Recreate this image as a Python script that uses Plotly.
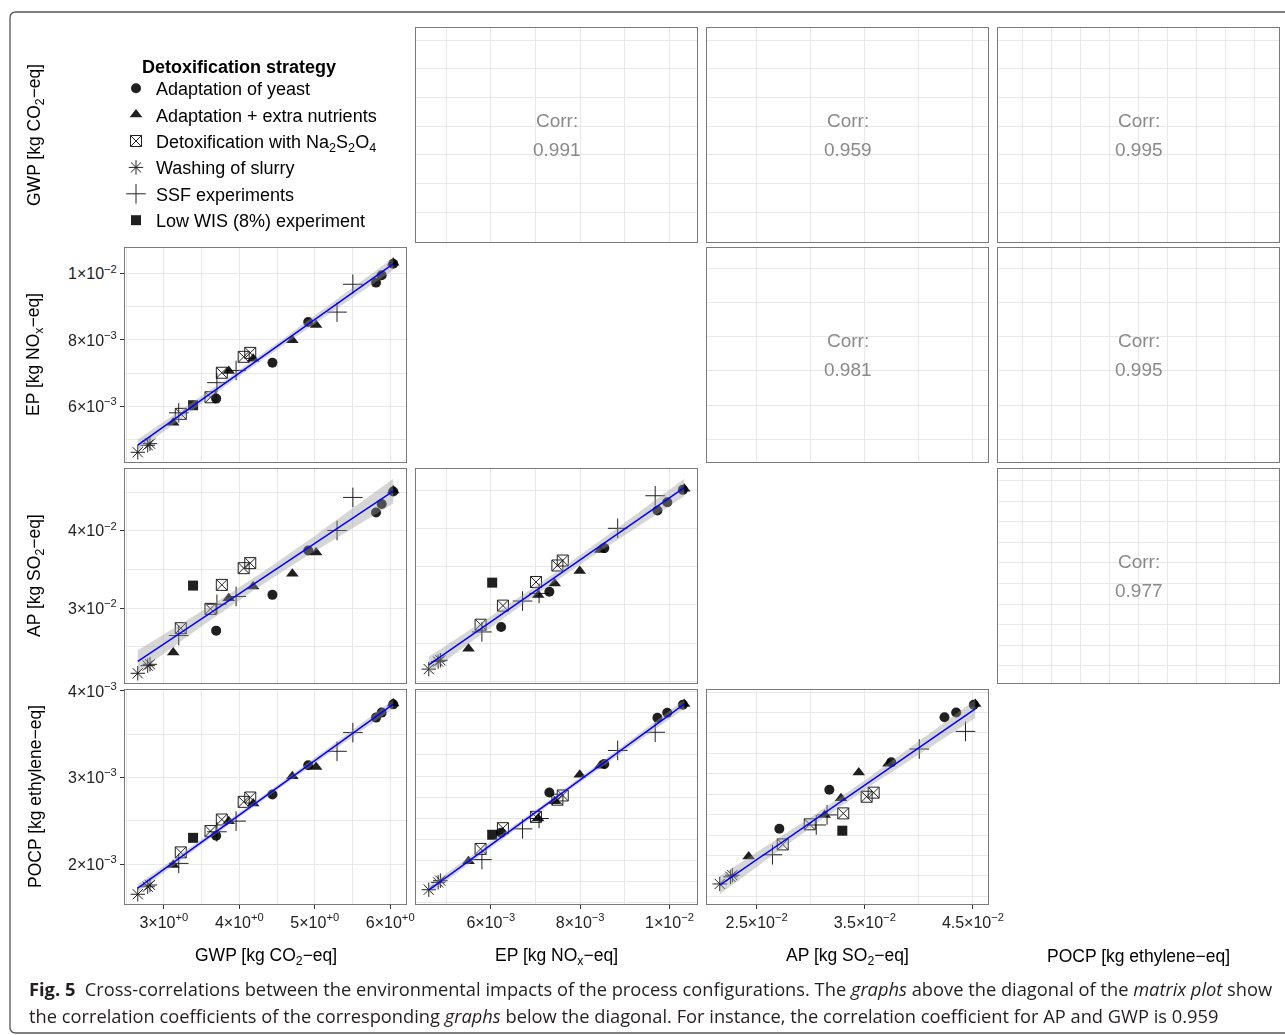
import numpy as np
import plotly.graph_objects as go

# ------------------------------------------------------------------ data
strategy = ["Washing of slurry", "Washing of slurry", "Washing of slurry",
            "Adaptation + extra nutrients", "Adaptation + extra nutrients", "Adaptation + extra nutrients",
            "Adaptation + extra nutrients", "Adaptation + extra nutrients", "Adaptation + extra nutrients",
            "Adaptation of yeast", "Adaptation of yeast", "Adaptation of yeast",
            "Adaptation of yeast", "Adaptation of yeast", "Adaptation of yeast",
            "Detoxification with Na2S2O4", "Detoxification with Na2S2O4", "Detoxification with Na2S2O4",
            "Detoxification with Na2S2O4", "Detoxification with Na2S2O4",
            "SSF experiments", "SSF experiments", "SSF experiments", "SSF experiments", "SSF experiments",
            "Low WIS (8%) experiment"]
gwp = [2.654, 2.786, 2.816, 3.124, 3.860, 4.184, 4.703, 5.018, 6.040, 3.693, 4.439, 4.913, 5.812,
       5.887, 6.040, 3.224, 3.618, 3.768, 4.058, 4.145, 3.197, 3.703, 3.957, 5.295, 5.505, 3.387]
ep = [0.00461, 0.00482, 0.00487, 0.00550, 0.00706, 0.00743, 0.00799, 0.00845, 0.01033, 0.00623,
      0.00731, 0.00854, 0.00973, 0.00995, 0.01030, 0.00577, 0.00627, 0.00701, 0.00749, 0.00761,
      0.00580, 0.00671, 0.00708, 0.00884, 0.00968, 0.00603]
ap = [0.02159, 0.02258, 0.02275, 0.02426, 0.03129, 0.03280, 0.03444, 0.03719, 0.04521, 0.02710,
      0.03172, 0.03745, 0.04237, 0.04345, 0.04508, 0.02741, 0.02991, 0.03301, 0.03517, 0.03582,
      0.02646, 0.03051, 0.03151, 0.04004, 0.04431, 0.03292]
pocp = [0.001651, 0.001738, 0.001758, 0.001988, 0.002496, 0.002700, 0.003015, 0.003122, 0.003854,
        0.002327, 0.002804, 0.003142, 0.003692, 0.003750, 0.003845, 0.002135, 0.002381, 0.002515,
        0.002719, 0.002769, 0.002008, 0.002373, 0.002496, 0.003303, 0.003519, 0.002303]

var_titles = ["GWP [kg CO<sub>2</sub>\u2212eq]", "EP [kg NO<sub>x</sub>\u2212eq]",
              "AP [kg SO<sub>2</sub>\u2212eq]", "POCP [kg ethylene\u2212eq]"]

groups = ["Adaptation of yeast", "Adaptation + extra nutrients", "Detoxification with Na2S2O4",
          "Washing of slurry", "SSF experiments", "Low WIS (8%) experiment"]
group_labels = ["Adaptation of yeast", "Adaptation + extra nutrients",
                "Detoxification with Na<sub>2</sub>S<sub>2</sub>O<sub>4</sub>",
                "Washing of slurry", "SSF experiments", "Low WIS (8%) experiment"]
legend_title = "Detoxification strategy"

corr_pairs = [(0, 1), (0, 2), (0, 3), (1, 2), (1, 3), (2, 3)]
corr_values = ["0.991", "0.959", "0.995", "0.981", "0.995", "0.977"]

# tick labels
x_tickvals = {0: [3, 4, 5, 6], 1: [0.006, 0.008, 0.010], 2: [0.025, 0.035, 0.045]}
x_ticktext = {0: ["3\u00d710<sup>+0</sup>", "4\u00d710<sup>+0</sup>", "5\u00d710<sup>+0</sup>", "6\u00d710<sup>+0</sup>"],
              1: ["6\u00d710<sup>\u22123</sup>", "8\u00d710<sup>\u22123</sup>", "1\u00d710<sup>\u22122</sup>"],
              2: ["2.5\u00d710<sup>\u22122</sup>", "3.5\u00d710<sup>\u22122</sup>", "4.5\u00d710<sup>\u22122</sup>"]}
y_tickvals = {1: [0.006, 0.008, 0.010], 2: [0.03, 0.04], 3: [0.002, 0.003, 0.004]}
y_ticktext = {1: ["6\u00d710<sup>\u22123</sup>", "8\u00d710<sup>\u22123</sup>", "1\u00d710<sup>\u22122</sup>"],
              2: ["3\u00d710<sup>\u22122</sup>", "4\u00d710<sup>\u22122</sup>"],
              3: ["2\u00d710<sup>\u22123</sup>", "3\u00d710<sup>\u22123</sup>", "4\u00d710<sup>\u22123</sup>"]}

# ------------------------------------------------------------------ styles / layout geometry
W, H = 1285, 1035
FONT = "Liberation Sans, Arial, sans-serif"
col_px = [(125, 406), (416, 697), (707, 988), (998, 1279)]
row_px = [(28, 242), (248, 462), (469, 683), (690, 904)]
grid_step = {(1, 0): (0.5, 0.001), (2, 0): (0.5, 0.005), (3, 0): (0.5, 0.0005),
             (2, 1): (0.001, 0.005), (3, 1): (0.001, 0.00025), (3, 2): (0.005, 0.00025),
             (0, 1): (0.001, 0.5), (0, 2): (0.005, 0.5), (0, 3): (0.00025, 0.5),
             (1, 2): (0.005, 0.001), (1, 3): (0.00025, 0.001), (2, 3): (0.00025, 0.0025)}
symbols = ["circle", "triangle-up", "square-x-open", "asterisk-open", "cross-thin-open", "square"]
sizes = [10, 11, 11, 12, 14, 10]
GRID = "#E8E8E8"
BORDER = "#7A7A7A"
T975 = 2.0639  # t quantile, df = n - 2 = 24


def px_x(x):
    return x / W


def px_y(y):
    return 1 - y / H


data = [np.array(gwp), np.array(ep), np.array(ap), np.array(pocp)]
strat = np.array(strategy)


def expand(lo, hi, f=0.05):
    d = hi - lo
    return [lo - f * d, hi + f * d]


def lm_band(x, y):
    n = len(x)
    b, a = np.polyfit(x, y, 1)
    xs = np.linspace(x.min(), x.max(), 80)
    fit = a + b * xs
    resid = y - (a + b * x)
    s = np.sqrt(np.sum(resid ** 2) / (n - 2))
    se = s * np.sqrt(1.0 / n + (xs - x.mean()) ** 2 / np.sum((x - x.mean()) ** 2))
    return xs, fit, fit - T975 * se, fit + T975 * se


fig = go.Figure()
layout = {}
annotations = []
k = 0
for r in range(4):
    for c in range(4):
        if r == c:
            continue
        k += 1
        xa = "x" if k == 1 else f"x{k}"
        ya = "y" if k == 1 else f"y{k}"
        xv, yv = data[c], data[r]
        xr = expand(xv.min(), xv.max())
        lower_panel = r > c
        if lower_panel:
            xs, fit, lo, hi = lm_band(xv, yv)
            yr = expand(min(yv.min(), lo.min()), max(yv.max(), hi.max()))
        else:
            yr = expand(yv.min(), yv.max())
        xstep, ystep = grid_step[(r, c)]

        xaxis = dict(domain=[px_x(col_px[c][0]), px_x(col_px[c][1])], range=xr, anchor=ya,
                     showgrid=True, gridcolor=GRID, gridwidth=1, zeroline=False,
                     showline=True, mirror=True, linecolor=BORDER, linewidth=1)
        yaxis = dict(domain=[px_y(row_px[r][1]), px_y(row_px[r][0])], range=yr, anchor=xa,
                     showgrid=True, gridcolor=GRID, gridwidth=1, zeroline=False,
                     showline=True, mirror=True, linecolor=BORDER, linewidth=1)
        if r == 3 and c in x_tickvals:
            xaxis.update(tickmode="array", tickvals=x_tickvals[c], ticktext=x_ticktext[c],
                         ticks="outside", ticklen=4, tickcolor="#333333", tickwidth=1,
                         tickfont=dict(family=FONT, size=16, color="#222222"),
                         minor=dict(tickmode="linear", tick0=0, dtick=xstep, showgrid=True,
                                    gridcolor=GRID, ticks=""))
        else:
            xaxis.update(tickmode="linear", tick0=0, dtick=xstep, showticklabels=False, ticks="")
        if c == 0 and r in y_tickvals:
            yaxis.update(tickmode="array", tickvals=y_tickvals[r], ticktext=y_ticktext[r],
                         ticks="outside", ticklen=4, tickcolor="#333333", tickwidth=1,
                         tickfont=dict(family=FONT, size=16, color="#222222"),
                         minor=dict(tickmode="linear", tick0=0, dtick=ystep, showgrid=True,
                                    gridcolor=GRID, ticks=""))
        else:
            yaxis.update(tickmode="linear", tick0=0, dtick=ystep, showticklabels=False, ticks="")
        layout["xaxis" if k == 1 else f"xaxis{k}"] = xaxis
        layout["yaxis" if k == 1 else f"yaxis{k}"] = yaxis

        if lower_panel:
            for gi, g in enumerate(groups):
                m = strat == g
                sym = symbols[gi]
                is_open = sym.endswith("-open")
                marker = dict(symbol=sym, size=sizes[gi], color="black",
                              line=dict(color="black", width=1 if is_open else 0))
                fig.add_trace(go.Scatter(x=xv[m], y=yv[m], mode="markers", xaxis=xa, yaxis=ya,
                                         marker=marker, opacity=0.88, name=group_labels[gi],
                                         legendgroup=g, showlegend=(r == 1 and c == 0),
                                         hoverinfo="skip"))
            fig.add_trace(go.Scatter(x=np.concatenate([xs, xs[::-1]]), y=np.concatenate([hi, lo[::-1]]),
                                     fill="toself", fillcolor="rgba(153,153,153,0.4)",
                                     line=dict(width=0), mode="lines", xaxis=xa, yaxis=ya,
                                     showlegend=False, hoverinfo="skip"))
            fig.add_trace(go.Scatter(x=xs, y=fit, mode="lines", line=dict(color="#0000FF", width=1.5),
                                     xaxis=xa, yaxis=ya, showlegend=False, hoverinfo="skip"))
        else:
            # empty trace so the upper (correlation) panel frame and grid get drawn
            fig.add_trace(go.Scatter(x=[None], y=[None], mode="markers", xaxis=xa, yaxis=ya,
                                     showlegend=False, hoverinfo="skip"))

# correlation texts in the upper panels
for (i, j), val in zip(corr_pairs, corr_values):
    cx = (col_px[j][0] + col_px[j][1]) / 2
    cy = (row_px[i][0] + row_px[i][1]) / 2
    for txt, dy in (("Corr:", -14.5), (val, 14.5)):
        annotations.append(dict(text=txt, x=px_x(cx), y=px_y(cy + dy), xref="paper", yref="paper",
                                showarrow=False, xanchor="center", yanchor="middle",
                                font=dict(family=FONT, size=19, color="#8A8A8A")))

# axis titles
for c in range(4):
    cx = (col_px[c][0] + col_px[c][1]) / 2
    annotations.append(dict(text=var_titles[c], x=px_x(cx), y=px_y(956), xref="paper", yref="paper",
                            showarrow=False, xanchor="center", yanchor="middle",
                            font=dict(family=FONT, size=17.5, color="black")))
for r in range(4):
    cy = (row_px[r][0] + row_px[r][1]) / 2
    annotations.append(dict(text=var_titles[r], x=px_x(35), y=px_y(cy), xref="paper", yref="paper",
                            showarrow=False, xanchor="center", yanchor="middle", textangle=-90,
                            font=dict(family=FONT, size=17.5, color="black")))

# legend title
annotations.append(dict(text="<b>" + legend_title + "</b>", x=px_x(140), y=px_y(67), xref="paper",
                        yref="paper", showarrow=False, xanchor="left", yanchor="middle",
                        font=dict(family=FONT, size=18, color="black")))

# caption
CAP = "Open Sans, sans-serif"
annotations.append(dict(text="<b>Fig. 5</b>  Cross-correlations between the environmental impacts of the process "
                             "configurations. The <i>graphs</i> above the diagonal of the <i>matrix plot</i> show",
                        x=px_x(27), y=px_y(988), xref="paper", yref="paper", showarrow=False,
                        xanchor="left", yanchor="middle", font=dict(family=CAP, size=18.3, color="#231F20")))
annotations.append(dict(text="the correlation coefficients of the corresponding <i>graphs</i> below the diagonal. "
                             "For instance, the correlation coefficient for AP and GWP is 0.959",
                        x=px_x(27), y=px_y(1015), xref="paper", yref="paper", showarrow=False,
                        xanchor="left", yanchor="middle", font=dict(family=CAP, size=18.3, color="#231F20")))

frame = ("M {a},{b} Q {c},{b} {c},{d} L {c},{e} Q {c},{f} {g},{f} L {h},{f}").format(
    a=px_x(16), b=px_y(1033), c=px_x(10), d=px_y(1027), e=px_y(18), f=px_y(12), g=px_x(16), h=1.01)
frame += " M {a},{b} L {h},{b}".format(a=px_x(16), b=px_y(1033), h=1.01)

layout.update(
    width=W, height=H, margin=dict(l=0, r=0, t=0, b=0, autoexpand=False),
    paper_bgcolor="white", plot_bgcolor="white",
    font=dict(family=FONT, color="black"),
    annotations=annotations,
    shapes=[dict(type="path", path=frame, xref="paper", yref="paper",
                 line=dict(color="#555555", width=1.3))],
    legend=dict(x=px_x(116), y=px_y(70), xanchor="left", yanchor="top",
                bgcolor="rgba(0,0,0,0)", itemwidth=30, tracegroupgap=0,
                font=dict(family=FONT, size=18, color="black")),
    showlegend=True,
)
fig.update_layout(**layout)
fig.write_html("out.html",
               config={"displayModeBar": False},
               post_script="document.body.style.margin='0px';"
                           "document.documentElement.style.overflow='hidden';")
